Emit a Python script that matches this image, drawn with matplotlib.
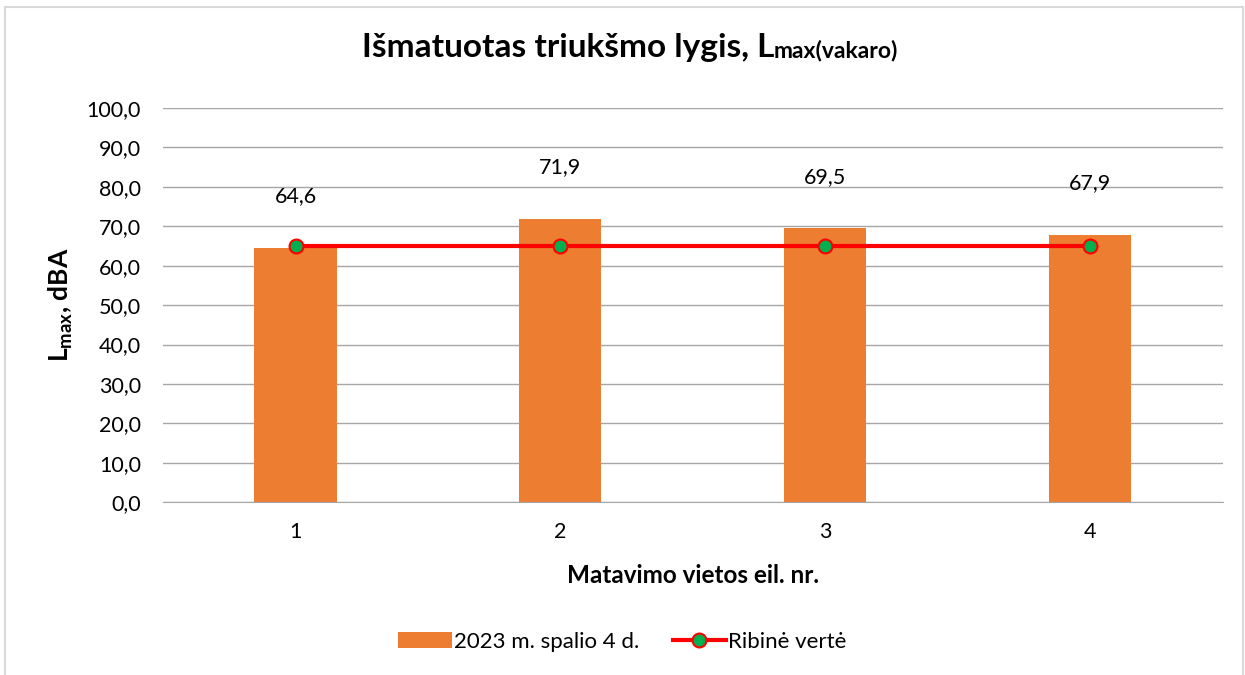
import matplotlib.pyplot as plt
import matplotlib.patches as patches
from matplotlib.ticker import FuncFormatter

plt.rcParams['font.family'] = ['Lato', 'DejaVu Sans']
plt.rcParams['mathtext.fontset'] = 'custom'
plt.rcParams['mathtext.rm'] = 'Lato'
plt.rcParams['mathtext.bf'] = 'Lato:bold'

# Data
categories = ['1', '2', '3', '4']
values = [64.6, 71.9, 69.5, 67.9]
limit = [65, 65, 65, 65]
bar_label = '2023 m. spalio 4 d.'
line_label = 'Ribinė vertė'

fig = plt.figure(figsize=(12.45, 6.75), dpi=100)
ax = fig.add_axes([0.131, 0.256, 0.851, 0.584])

x = list(range(len(categories)))
bars = ax.bar(x, values, width=0.31, color='#ED7D31', label=bar_label, zorder=2)
line, = ax.plot(x, limit, color='#FF0000', linewidth=3, marker='o', markersize=10,
                markerfacecolor='#00B050', markeredgecolor='#FF0000', markeredgewidth=1.5,
                label=line_label, zorder=3)

for xi, v in zip(x, values):
    ax.text(xi, v + 13, f'{v:.1f}'.replace('.', ','), ha='center', va='center',
            fontsize=15.5, color='#000000')

ax.set_xlim(-0.5, len(categories) - 0.5)
ax.set_ylim(0, 100)
ax.set_yticks(range(0, 101, 10))
ax.yaxis.set_major_formatter(FuncFormatter(lambda v, p: f'{v:.1f}'.replace('.', ',')))
ax.set_xticks(x)
ax.set_xticklabels(categories)
ax.tick_params(axis='both', length=0, labelsize=15.5)
ax.tick_params(axis='y', pad=16)
ax.tick_params(axis='x', pad=14)
ax.grid(axis='y', color='#A6A6A6', linewidth=1, zorder=0)
ax.set_axisbelow(True)
for s in ['top', 'right', 'left']:
    ax.spines[s].set_visible(False)
ax.spines['bottom'].set_color('#A6A6A6')

ax.set_xlabel('Matavimo vietos eil. nr.', fontsize=17.5, fontweight='bold', labelpad=16)
ax.set_ylabel(r'L$_{\mathbf{max}}$, dBA', fontsize=19, fontweight='bold', labelpad=8)

fig.legend([bars, line], [bar_label, line_label], loc='center',
           bbox_to_anchor=(0.5, 0.049), ncol=2, frameon=False, fontsize=16,
           handlelength=2.4, columnspacing=1.5, handletextpad=0.1)

# title with smaller suffix, centred as a whole
t1 = fig.text(0, 0.915, 'Išmatuotas triukšmo lygis, L', fontsize=24,
              fontweight='bold', ha='left', va='baseline')
t2 = fig.text(0, 0.915, 'max(vakaro)', fontsize=16.5,
              fontweight='bold', ha='left', va='baseline')
fig.canvas.draw()
w1 = t1.get_window_extent().width
w2 = t2.get_window_extent().width
x0 = 630 - (w1 + w2) / 2
t1.set_x(x0 / fig.bbox.width)
t2.set_x((x0 + w1) / fig.bbox.width)

# chart border
fig.patches.append(patches.Rectangle((0.004, -0.01), 0.994, 1.0, transform=fig.transFigure,
                                     fill=False, edgecolor='#D9D9D9', linewidth=1.5))

plt.savefig('out.png', dpi=100)
